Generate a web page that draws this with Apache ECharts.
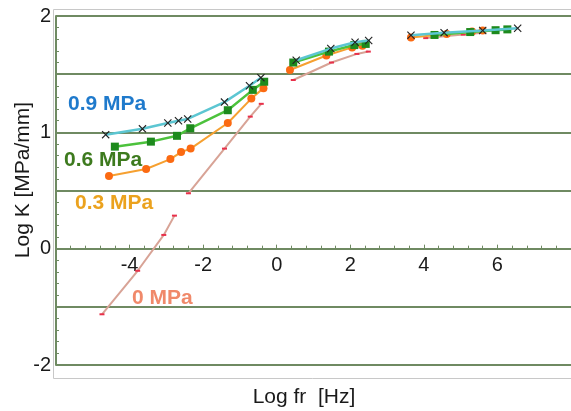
<!DOCTYPE html>
<html>
<head>
<meta charset="utf-8">
<script src="https://cdn.jsdelivr.net/npm/echarts@6/dist/echarts.min.js"></script>
<style>
  html, body { margin: 0; padding: 0; background: #fff; }
  #chart { width: 571px; height: 411px; }
</style>
</head>
<body>
<div id="chart"></div>
<script>
// pressure labels
const pressures = ['0.9 MPa', '0.6 MPa', '0.3 MPa', '0 MPa'];

// log fr per pressure, split into the measured segments
const fr09 = [[-4.65, -3.65, -2.96, -2.67, -2.42, -1.42, -0.74, -0.43], [0.53, 1.47, 2.13, 2.5], [3.65, 4.55, 5.6, 6.55]];
const k09  = [[0.98, 1.03, 1.08, 1.10, 1.115, 1.26, 1.40, 1.47], [1.62, 1.72, 1.775, 1.79], [1.835, 1.857, 1.875, 1.895]];

const fr06 = [[-4.4, -3.42, -2.71, -2.35, -1.33, -0.65, -0.34], [0.45, 1.42, 2.11, 2.42], [4.29, 5.26, 5.95, 6.27]];
const k06  = [[0.877, 0.92, 0.97, 1.035, 1.19, 1.365, 1.435], [1.60, 1.694, 1.75, 1.76], [1.837, 1.862, 1.878, 1.885]];

const fr03 = [[-4.56, -3.55, -2.89, -2.6, -2.34, -1.33, -0.69, -0.36], [0.36, 1.35, 2.05, 2.33], [3.65, 4.62, 5.31, 5.6]];
const k03  = [[0.625, 0.685, 0.77, 0.83, 0.86, 1.08, 1.29, 1.38], [1.536, 1.66, 1.73, 1.745], [1.815, 1.846, 1.866, 1.875]];

const fr00 = [[-4.75, -3.78, -3.07, -2.78], [-2.4, -1.42, -0.72, -0.42], [0.45, 1.49, 2.18, 2.49], [4.05, 5.07, 5.6]];
const k00  = [[-0.564, -0.19, 0.118, 0.284], [0.476, 0.86, 1.135, 1.245], [1.45, 1.60, 1.674, 1.694], [1.81, 1.84, 1.855]];

// y tick labels as printed on the original figure
const yTickVals = [2, 1, 0, -1];
const yTickText = ['2', '1', '0', '-2'];

const yMin = -1, yMax = 2;
const gridTop = 16, gridBottom = 46, chartH = 411;

const crossPath = 'path://M1,0L5,4L9,0L10,1L6,5L10,9L9,10L5,6L1,10L0,9L4,5L0,1Z';

const styles = [
  { fr: fr09, k: k09, line: '#5cc6d2', width: 2.5, symbol: crossPath, size: 8, mark: '#222', label: '#1f7acc', pos: [68, 104] },
  { fr: fr06, k: k06, line: '#4cc23c', width: 2.5, symbol: 'rect', size: 8, mark: '#1d8a1d', label: '#3d7a1e', pos: [64, 160] },
  { fr: fr03, k: k03, line: '#f6a030', width: 2, symbol: 'circle', size: 8, mark: '#fb6a12', label: '#eba21e', pos: [75, 203] },
  { fr: fr00, k: k00, line: '#d8a396', width: 2, symbol: 'rect', size: [5, 2], mark: '#e8304a', label: '#f0896a', pos: [132, 298] }
];

const green = '#6f8a62';
const series = [];
// draw 0 MPa first so the other curves sit on top
styles.slice().reverse().forEach((s, i) => {
  s.fr.forEach((seg, j) => {
    series.push({
      type: 'line',
      name: pressures[styles.length - 1 - i],
      data: seg.map((x, n) => [x, s.k[j][n]]),
      symbol: s.symbol,
      symbolSize: s.size,
      showSymbol: true,
      lineStyle: { color: s.line, width: s.width },
      itemStyle: { color: s.mark },
      animation: false,
      z: 3 + i
    });
  });
});

// the x axis crosses at log K = 0
const gridH = chartH - gridTop - gridBottom;
const xAxisOffset = -gridH * (0 - yMin) / (yMax - yMin);

const chart = echarts.init(document.getElementById('chart'));
chart.setOption({
  backgroundColor: '#fff',
  animation: false,
  grid: { left: 56, top: gridTop, right: -9, bottom: gridBottom },
  xAxis: {
    type: 'value',
    min: -6,
    max: 8,
    interval: 2,
    offset: xAxisOffset,
    axisLine: { onZero: false, lineStyle: { color: green, width: 2 } },
    axisTick: { inside: true, length: 4, lineStyle: { color: green } },
    minorTick: { show: true, splitNumber: 5, length: 3, lineStyle: { color: green } },
    splitLine: { show: false },
    axisLabel: {
      showMinLabel: false,
      showMaxLabel: false,
      margin: 7,
      fontSize: 20,
      color: '#1a1a1a',
      fontFamily: 'Liberation Sans, Arial, sans-serif'
    }
  },
  yAxis: {
    type: 'value',
    min: yMin,
    max: yMax,
    interval: 0.5,
    axisLine: { show: true, onZero: false, lineStyle: { color: green, width: 2 } },
    axisTick: { inside: true, length: 4, lineStyle: { color: green } },
    minorTick: { show: true, splitNumber: 5, length: 3, lineStyle: { color: green } },
    splitLine: { show: true, lineStyle: { color: green, width: 2 } },
    axisLabel: {
      margin: 5,
      fontSize: 20,
      color: '#1a1a1a',
      padding: [8, 0, 0, 0],
      fontFamily: 'Liberation Sans, Arial, sans-serif',
      formatter: v => {
        const idx = yTickVals.indexOf(v);
        return idx >= 0 ? yTickText[idx] : '';
      }
    }
  },
  graphic: [
    {
      type: 'rect',
      shape: { x: 53.5, y: 9.5, width: 600, height: 369 },
      style: { fill: 'none', stroke: '#c8c8c8', lineWidth: 1 },
      silent: true,
      z: -1
    },
    {
      type: 'text',
      x: 23, y: 180,
      rotation: Math.PI / 2,
      style: {
        text: 'Log K [MPa/mm]',
        fill: '#1a1a1a',
        font: '21px "Liberation Sans", Arial, sans-serif',
        textAlign: 'center',
        textVerticalAlign: 'middle'
      }
    },
    {
      type: 'text',
      x: 304, y: 397,
      style: {
        text: 'Log fr  [Hz]',
        fill: '#1a1a1a',
        font: '21px "Liberation Sans", Arial, sans-serif',
        textAlign: 'center',
        textVerticalAlign: 'middle'
      }
    }
  ].concat(styles.map((s, i) => ({
    type: 'text',
    x: s.pos[0], y: s.pos[1],
    z: 20,
    style: {
      text: pressures[i],
      fill: s.label,
      font: 'bold 21px "Liberation Sans", Arial, sans-serif',
      textAlign: 'left',
      textVerticalAlign: 'middle'
    }
  }))),
  series: series
});
</script>
</body>
</html>
